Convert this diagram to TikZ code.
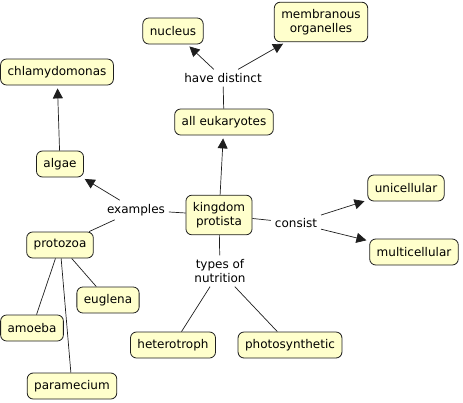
\documentclass[tikz,border=0pt]{standalone}
\usepackage{fontspec}
\setmainfont{DejaVu Sans}
\usepackage{tikz}
\definecolor{conceptfill}{RGB}{255, 255, 204}
\definecolor{edge}{RGB}{30, 30, 30}
\usetikzlibrary{arrows.meta, positioning}

\begin{document}
\begin{tikzpicture}[x=1pt, y=-1pt,
    concept/.style={draw=edge, line width=0.8pt, rounded corners=6pt,
                    fill=conceptfill, minimum height=26pt, inner xsep=7pt,
                    inner ysep=7pt, align=center,
                    font=\fontsize{12}{14}\selectfont},
    linkword/.style={inner sep=1pt, outer sep=3pt, align=center,
                     font=\fontsize{12}{14}\selectfont},
    link/.style={draw=edge, line width=0.7pt},
    arrowlink/.style={link, -{Triangle[length=10pt, width=10pt]}, shorten >=3pt}
]
    \useasboundingbox (0,0) rectangle (463,402);

    % Concepts
    \node[concept] (nucleus) at (173,31) {nucleus};
    \node[concept] (organelles) at (321,22) {membranous\\organelles};
    \node[concept] (chlamydomonas) at (57,72) {chlamydomonas};
    \node[concept] (eukaryotes) at (224,122) {all eukaryotes};
    \node[concept] (algae) at (60,164) {algae};
    \node[concept] (unicellular) at (406,188) {unicellular};
    \node[concept] (protista) at (219,215) {kingdom\\protista};
    \node[concept] (protozoa) at (60,245) {protozoa};
    \node[concept] (multicellular) at (414,252) {multicellular};
    \node[concept] (euglena) at (108,300) {euglena};
    \node[concept] (amoeba) at (32,328) {amoeba};
    \node[concept] (heterotroph) at (173,345) {heterotroph};
    \node[concept] (photosynthetic) at (290,345) {photosynthetic};
    \node[concept] (paramecium) at (72,386) {paramecium};

    % Linking words
    \node[linkword] (distinct) at (223,78) {have distinct};
    \node[linkword] (examples) at (136,210) {examples};
    \node[linkword] (consist) at (296,223) {consist};
    \node[linkword] (nutrition) at (220,271) {types of\\nutrition};

    % Connecting lines
    \draw[arrowlink] (protista) -- (eukaryotes);
    \draw[link] (eukaryotes) -- (distinct);
    \draw[arrowlink] (distinct) -- (nucleus);
    \draw[arrowlink] (distinct) -- (organelles);
    \draw[arrowlink] (algae) -- (chlamydomonas);
    \draw[link] (protista) -- (examples);
    \draw[arrowlink] (examples) -- (algae);
    \draw[link] (examples) -- (protozoa);
    \draw[link] (protista) -- (consist);
    \draw[arrowlink] (consist) -- (unicellular);
    \draw[arrowlink] (consist) -- (multicellular);
    \draw[link] (protista) -- (nutrition);
    \draw[link] (nutrition) -- (heterotroph);
    \draw[link] (nutrition) -- (photosynthetic);
    \draw[link] (protozoa) -- (amoeba);
    \draw[link] (protozoa) -- (paramecium);
    \draw[link] (protozoa) -- (euglena);
\end{tikzpicture}
\end{document}
